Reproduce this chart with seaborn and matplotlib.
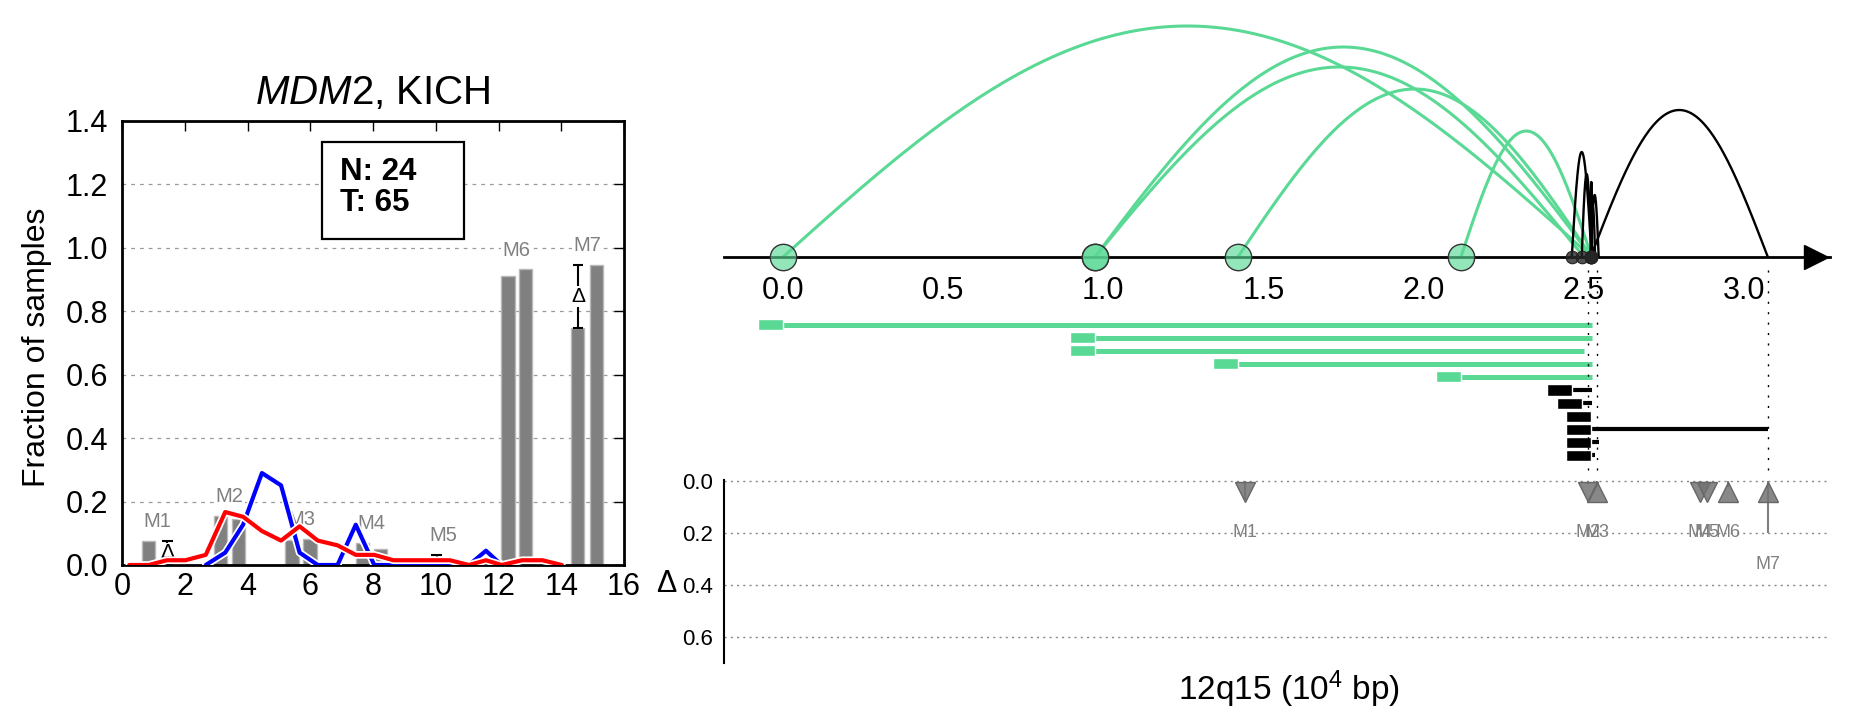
import numpy as np
import matplotlib
matplotlib.use('Agg')
import matplotlib.pyplot as plt
import matplotlib.patheffects as pe
from matplotlib import transforms
from matplotlib.patches import Rectangle
import seaborn as sns

# ---- left panel: paired bars per region ----
regions = ['M1', 'M2', 'M3', 'M4', 'M5', 'M6', 'M7']
bar1_x = [0.84, 3.15, 5.42, 7.66, 9.97, 12.30, 14.53]
bar2_x = [1.41, 3.71, 5.99, 8.24, 10.53, 12.85, 15.12]
bar1_h = [0.075, 0.155, 0.078, 0.070, 0.0, 0.910, 0.747]
bar2_h = [0.0, 0.144, 0.083, 0.052, 0.0, 0.933, 0.947]

# delta brackets on the bars
delta_x = [1.45, 10.03, 14.53]
delta_lo = [0.0, 0.0, 0.747]
delta_hi = [0.077, 0.032, 0.947]
delta_txt = ['Δ', '', 'Δ']

# profile lines
line_x = [0.23, 0.85, 1.43, 2.02, 2.67, 3.29, 3.86, 4.46, 5.07, 5.66, 6.24, 6.87,
          7.45, 8.04, 8.65, 9.25, 9.85, 10.45, 11.06, 11.6, 12.1, 12.75, 13.4, 14.02]
red_y = [0, 0, 0.015, 0.015, 0.032, 0.167, 0.152, 0.107, 0.077, 0.122, 0.077, 0.062,
         0.032, 0.032, 0.015, 0.015, 0.015, 0.015, 0, 0.015, 0, 0.015, 0.015, 0]
blue_x = [2.67, 3.29, 3.86, 4.46, 5.07, 5.66, 6.24, 6.87, 7.45, 8.04, 8.65, 9.25,
          9.85, 10.45, 11.06, 11.6, 12.1]
blue_y = [0, 0.039, 0.127, 0.29, 0.251, 0.039, 0, 0, 0.127, 0, 0, 0,
          0, 0, 0, 0.045, 0]

n_count = 24
t_count = 65

# ---- right panel: rearrangement arcs (x in 10^4 bp, height in px) ----
arc_start = [0.0, 0.974, 0.974, 1.42, 2.116, 2.462, 2.493, 2.521, 2.521, 2.521, 2.521]
arc_end = [2.524, 2.524, 2.50, 2.524, 2.524, 2.524, 2.524, 2.525, 3.074, 2.546, 2.535]
arc_height = [231, 210, 190, 168, 126, 105, 83, 75, 147, 62, 50]
arc_group = ['green'] * 5 + ['black'] * 6
axis_ticks = [0.0, 0.5, 1.0, 1.5, 2.0, 2.5, 3.0]

# ---- bottom right: delta per region ----
mut_x = [1.441, 2.514, 2.541, 2.862, 2.885, 2.950, 3.074]
mut_delta = [-0.073, -0.011, 0.008, -0.018, -0.030, 0.023, 0.200]
guide_marks = ['M2', 'M3', 'M7']

GREEN = '#5ad995'
pal = {'green': GREEN, 'black': 'black'}

sns.set_style('white')
plt.rcParams['font.family'] = ['Liberation Sans', 'DejaVu Sans']
plt.rcParams['mathtext.fontset'] = 'custom'
plt.rcParams['mathtext.rm'] = 'Liberation Sans'
plt.rcParams['mathtext.it'] = 'Liberation Sans:italic'
for key in ['text.color', 'axes.labelcolor', 'xtick.color', 'ytick.color', 'axes.edgecolor']:
    plt.rcParams[key] = 'black'

W, H = 1851, 718
fig = plt.figure(figsize=(W / 100, H / 100), dpi=100)


def px_axes(x0, y0, x1, y1):
    # pixel box measured from the top-left corner
    return fig.add_axes([x0 / W, 1 - y1 / H, (x1 - x0) / W, (y1 - y0) / H])


# ================= left panel =================
ax = px_axes(122, 121, 624, 565)
ax.bar(bar1_x, bar1_h, width=0.42, color='#808080', edgecolor='#b8b8b8', lw=1, zorder=1)
ax.bar(bar2_x, bar2_h, width=0.42, color='#808080', edgecolor='#b8b8b8', lw=1, zorder=1)

for i, lab in enumerate(regions):
    cx = (bar1_x[i] + bar2_x[i]) / 2
    top = max(bar1_h[i], bar2_h[i])
    for j, dx in enumerate(delta_x):
        if bar1_x[i] - 0.3 < dx < bar2_x[i] + 0.3:
            top = max(top, delta_hi[j])
    ax.text(cx, top + 0.06, lab, color='gray', fontsize=14.5, ha='center', va='center',
            bbox=dict(fc='white', ec='none', pad=1), zorder=2)

ax.vlines(delta_x, delta_lo, delta_hi, color='black', lw=1.5, zorder=2.2)
for dx, lo, hi, tx in zip(delta_x, delta_lo, delta_hi, delta_txt):
    ax.hlines([lo, hi], dx - 0.17, dx + 0.17, color='black', lw=1.5, zorder=2.2)
    if tx:
        ax.text(dx, (lo + hi) / 2, tx, fontsize=15, ha='center', va='center',
                bbox=dict(fc='white', ec='none', pad=0.5), zorder=2.3)

stroke = [pe.Stroke(linewidth=5.5, foreground='white'), pe.Normal()]
sns.lineplot(x=blue_x, y=blue_y, ax=ax, color='blue', lw=3, zorder=3, path_effects=stroke)
sns.lineplot(x=line_x, y=red_y, ax=ax, color='red', lw=3, zorder=3.1, path_effects=stroke)

ax.add_patch(Rectangle((6.37, 1.028), 4.53, 0.307, fc='white', ec='black', lw=1.6, zorder=4))
ax.text(6.96, 1.19, f'N: {n_count}\nT: {t_count}', fontsize=22.5, fontweight='bold',
        ha='left', va='center', linespacing=1.05, zorder=5)

ax.set_xlim(0, 16)
ax.set_ylim(0, 1.4)
ax.set_xticks(range(0, 17, 2))
ax.set_yticks(np.arange(0, 1.41, 0.2))
ax.set_yticklabels([f'{v:.1f}' for v in np.arange(0, 1.41, 0.2)])
ax.yaxis.grid(True, ls=(0, (3, 4)), color='#999999', lw=0.9)
ax.set_axisbelow(True)
ax.tick_params(direction='in', length=7, width=1, top=True, right=True, labelsize=22)
ax.tick_params(axis='y', pad=10)
ax.tick_params(axis='x', pad=5)
for s in ax.spines.values():
    s.set_linewidth(2)
    s.set_color('black')
ax.set_title(r'$\mathit{MDM2}$, KICH', fontsize=29, pad=12)
ax.set_xlabel('')
ax.set_ylabel('Fraction of samples', fontsize=23)
ax.yaxis.set_label_coords(-0.14, 0.49)

# ================= right top: arcs on the coordinate axis =================
XL = (-0.184, 3.268)
axa = px_axes(724, 0, 1830, 300)
axa.set_xlim(*XL)
axa.set_ylim(-43, 257)
t = np.linspace(0, 1, 200)
for s0, e0, h, g in zip(arc_start, arc_end, arc_height, arc_group):
    axa.plot(s0 + (e0 - s0) * t, h * np.sin(np.pi * t), color=pal[g],
             lw=2.2 if g == 'green' else 1.7, zorder=2)
for s0, g in zip(arc_start, arc_group):
    if g == 'green':
        axa.plot(s0, 0, marker='o', ms=19, mfc=(0.353, 0.851, 0.584, 0.65),
                 mec='#333333', mew=1, zorder=4, clip_on=False)
    else:
        axa.plot(s0, 0, marker='o', ms=9, mfc=(0.15, 0.15, 0.15, 0.8),
                 mec='#222222', mew=0.8, zorder=4, clip_on=False)
for side in ['top', 'left', 'right']:
    axa.spines[side].set_visible(False)
axa.spines['bottom'].set_position(('data', 0))
axa.spines['bottom'].set_linewidth(2)
axa.spines['bottom'].set_color('black')
axa.set_yticks([])
axa.set_xticks(axis_ticks)
axa.set_xticklabels([f'{v:.1f}' for v in axis_ticks])
axa.tick_params(axis='x', direction='out', length=7, width=1, labelsize=22, pad=7)
axa.plot(3.225, 0, marker='>', ms=17, color='black', clip_on=False, zorder=5)
axa.patch.set_alpha(0)

# ================= right middle: span rows =================
axr = px_axes(724, 318, 1830, 462)
axr.set_xlim(*XL)
axr.set_ylim(len(arc_start) - 0.5, -0.5)
rows = np.arange(len(arc_start))
box_w = 0.078
for r, s0, e0, g in zip(rows, arc_start, arc_end, arc_group):
    axr.hlines(r, s0, e0, color=pal[g], lw=3.6 if g == 'green' else 3, zorder=2)
    axr.barh(r, box_w, left=s0 - box_w, height=0.85, color=pal[g], zorder=3)
axr.axis('off')
axr.patch.set_alpha(0)

# ================= right bottom: delta =================
axd = px_axes(724, 480, 1830, 663)
axd.set_xlim(*XL)
axd.set_ylim(0.7, -0.003)
for x0, d, lab in zip(mut_x, mut_delta, regions):
    axd.vlines(x0, 0, abs(d), color='gray', lw=1.5, zorder=2)
    axd.plot(x0, 0.042, marker='^' if d > 0 else 'v', ms=15,
             mfc=(0.45, 0.45, 0.45, 0.85), mec='#666666', mew=1, zorder=3, clip_on=False)
    axd.text(x0, max(abs(d), 0.08) + 0.12, lab, color='gray', fontsize=13,
             ha='center', va='center', zorder=3)
for side in ['top', 'right', 'bottom']:
    axd.spines[side].set_visible(False)
axd.spines['left'].set_linewidth(1.5)
axd.spines['left'].set_color('black')
axd.set_yticks([0.0, 0.2, 0.4, 0.6])
axd.set_yticklabels(['0.0', '0.2', '0.4', '0.6'])
axd.set_xticks([])
axd.yaxis.grid(True, ls=(0, (1.5, 3)), color='#888888', lw=1)
axd.tick_params(axis='y', direction='in', length=5, width=1, labelsize=16, pad=8)
axd.text(-0.052, 0.43, 'Δ', transform=axd.transAxes, ha='center', va='center', fontsize=22)
axd.set_xlabel('12q15 (10$^4$ bp)', fontsize=24)
axd.xaxis.set_label_coords(0.511, -0.03)

# dotted guides linking the axis to the delta markers
guide_tf = transforms.blended_transform_factory(axd.transData, fig.transFigure)
gx = [mut_x[regions.index(m)] for m in guide_marks]
axd.vlines(gx, 1 - 470 / H, 1 - 262 / H, transform=guide_tf, color='black',
           lw=1, ls=(0, (1.5, 6)), clip_on=False)

fig.savefig('out.png', dpi=100)
